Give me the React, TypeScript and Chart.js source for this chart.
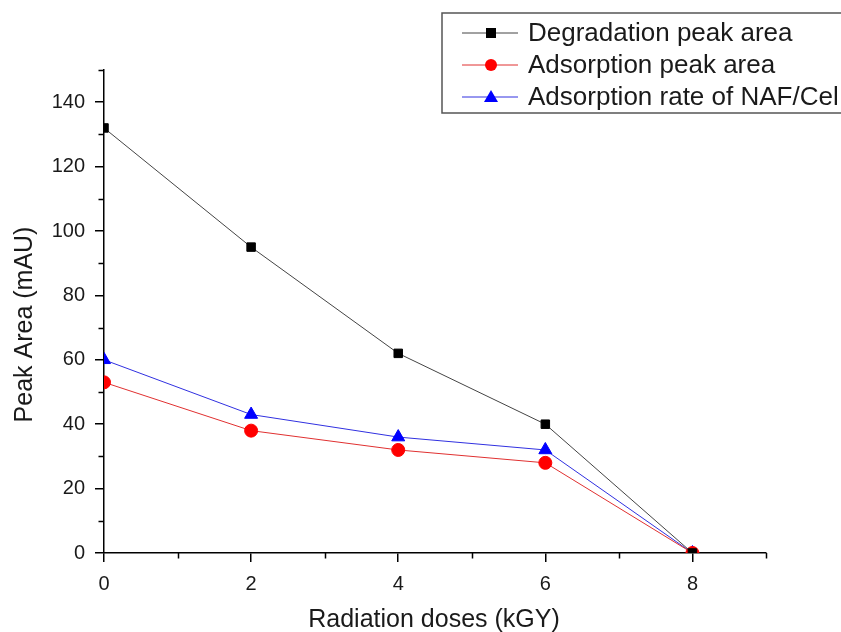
import React, { useEffect, useRef } from "react";
import { Chart, registerables } from "chart.js";

Chart.register(...registerables);

const doses = [0, 2, 4, 6, 8];
const degradationPeak = [132, 95, 62, 40, 0];
const adsorptionPeak = [53, 38, 32, 28, 0];
const adsorptionRate = [60, 43, 36, 32, 0];
const seriesLabels = ["Degradation peak area", "Adsorption peak area", "Adsorption rate of NAF/Cel"];
const xTitle = "Radiation doses (kGY)";
const yTitle = "Peak Area (mAU)";

const FONT = "'Liberation Sans', Arial, sans-serif";

const isXMajor = (v: number) => v % 2 === 0 && v <= 8;
const isYMajor = (v: number) => v % 20 === 0;

const legendPlugin = {
  id: "boxLegend",
  afterDraw(chart: any) {
    const ctx = chart.ctx;
    const left = 442, top = 13, width = 420, height = 100;
    ctx.save();
    ctx.strokeStyle = "#555";
    ctx.lineWidth = 1.5;
    ctx.strokeRect(left, top, width, height);
    const rowY = [33, 65, 97];
    ctx.font = `26px ${FONT}`;
    ctx.textBaseline = "middle";
    chart.data.datasets.forEach((ds: any, i: number) => {
      const y = rowY[i];
      ctx.strokeStyle = ds.borderColor;
      ctx.lineWidth = 1;
      ctx.beginPath();
      ctx.moveTo(462, y);
      ctx.lineTo(518, y);
      ctx.stroke();
      ctx.fillStyle = ds.pointBackgroundColor;
      const cx = 491;
      if (ds.pointStyle === "rect") {
        ctx.fillRect(cx - 5, y - 5, 10, 10);
      } else if (ds.pointStyle === "circle") {
        ctx.beginPath();
        ctx.arc(cx, y, 6, 0, Math.PI * 2);
        ctx.fill();
      } else {
        ctx.beginPath();
        ctx.moveTo(cx, y - 7);
        ctx.lineTo(cx + 7, y + 5);
        ctx.lineTo(cx - 7, y + 5);
        ctx.closePath();
        ctx.fill();
      }
      ctx.fillStyle = "#1a1a1a";
      ctx.fillText(ds.label, 528, y + 1);
    });
    ctx.restore();
  },
};

const titlesPlugin = {
  id: "axisTitles",
  afterDraw(chart: any) {
    const ctx = chart.ctx;
    const area = chart.chartArea;
    ctx.save();
    // minor ticks
    ctx.strokeStyle = "#000";
    ctx.lineWidth = 1.5;
    const xs = chart.scales.x;
    const ys = chart.scales.y;
    ctx.beginPath();
    xs.ticks.forEach((t: any) => {
      if (!isXMajor(t.value)) {
        const px = Math.round(xs.getPixelForValue(t.value)) + 0.5;
        ctx.moveTo(px, area.bottom);
        ctx.lineTo(px, area.bottom + 5.5);
      }
    });
    ys.ticks.forEach((t: any) => {
      if (!isYMajor(t.value)) {
        const py = Math.round(ys.getPixelForValue(t.value)) + 0.5;
        ctx.moveTo(area.left, py);
        ctx.lineTo(area.left - 5.5, py);
      }
    });
    ctx.stroke();
    // titles
    ctx.fillStyle = "#1a1a1a";
    ctx.font = `25px ${FONT}`;
    ctx.textAlign = "center";
    ctx.textBaseline = "alphabetic";
    ctx.fillText(xTitle, (area.left + area.right) / 2 - 1, 627);
    ctx.translate(32, (area.top + area.bottom) / 2 + 13);
    ctx.rotate(-Math.PI / 2);
    ctx.fillText(yTitle, 0, 0);
    ctx.restore();
  },
};

export default function App() {
  const ref = useRef<HTMLCanvasElement>(null);
  useEffect(() => {
    const mk = (data: number[]) => data.map((v, i) => ({ x: doses[i], y: v }));
    const chart = new Chart(ref.current!, {
      type: "line",
      data: {
        datasets: [
          {
            label: seriesLabels[0],
            data: mk(degradationPeak),
            borderColor: "#444444",
            backgroundColor: "#000000",
            pointBackgroundColor: "#000000",
            pointBorderColor: "#000000",
            pointStyle: "rect",
            pointRadius: 6,
            borderWidth: 1,
            clip: 0,
          },
          {
            label: seriesLabels[1],
            data: mk(adsorptionPeak),
            borderColor: "#e03030",
            backgroundColor: "#ff0000",
            pointBackgroundColor: "#ff0000",
            pointBorderColor: "#ff0000",
            pointStyle: "circle",
            pointRadius: 6.5,
            borderWidth: 1,
            clip: 0,
          },
          {
            label: seriesLabels[2],
            data: mk(adsorptionRate),
            borderColor: "#3030e0",
            backgroundColor: "#0000ff",
            pointBackgroundColor: "#0000ff",
            pointBorderColor: "#0000ff",
            pointStyle: "triangle",
            pointRadius: 7.5,
            borderWidth: 1,
            clip: 0,
          },
        ] as any,
      },
      options: {
        animation: false,
        responsive: false,
        layout: { padding: { top: 70, right: 75, left: 0, bottom: 0 } },
        plugins: { legend: { display: false }, tooltip: { enabled: false } },
        scales: {
          x: {
            type: "linear",
            min: 0,
            max: 9,
            afterFit: (s: any) => { s.height = 79; },
            border: { color: "#000", width: 1.5 },
            grid: {
              drawOnChartArea: false,
              color: "#000",
              tickLength: 9,
              lineWidth: 1.5,
              tickColor: (c: any) => (c.tick && isXMajor(c.tick.value) ? "#000" : "rgba(0,0,0,0)"),
            },
            ticks: {
              stepSize: 1,
              autoSkip: false,
              color: "#1a1a1a",
              font: { family: FONT, size: 20 },
              padding: 10,
              maxRotation: 0,
              callback: (v: any) => (isXMajor(Number(v)) ? String(v) : ""),
            },
            title: { display: false, text: xTitle },
          },
          y: {
            type: "linear",
            min: 0,
            max: 150,
            afterFit: (s: any) => { s.width = 104; },
            border: { color: "#000", width: 1.5 },
            grid: {
              drawOnChartArea: false,
              color: "#000",
              tickLength: 9,
              lineWidth: 1.5,
              tickColor: (c: any) => (c.tick && isYMajor(c.tick.value) ? "#000" : "rgba(0,0,0,0)"),
            },
            ticks: {
              stepSize: 10,
              autoSkip: false,
              color: "#1a1a1a",
              font: { family: FONT, size: 20 },
              padding: 10,
              callback: (v: any) => (isYMajor(Number(v)) ? String(v) : ""),
            },
            title: { display: false, text: yTitle },
          },
        },
      } as any,
      plugins: [legendPlugin, titlesPlugin],
    });
    return () => chart.destroy();
  }, []);
  return (
    <div style={{ position: "fixed", left: 0, top: 0, width: 841, height: 632, background: "#fff" }}>
      <canvas ref={ref} width={841} height={632} style={{ display: "block" }} />
    </div>
  );
}
